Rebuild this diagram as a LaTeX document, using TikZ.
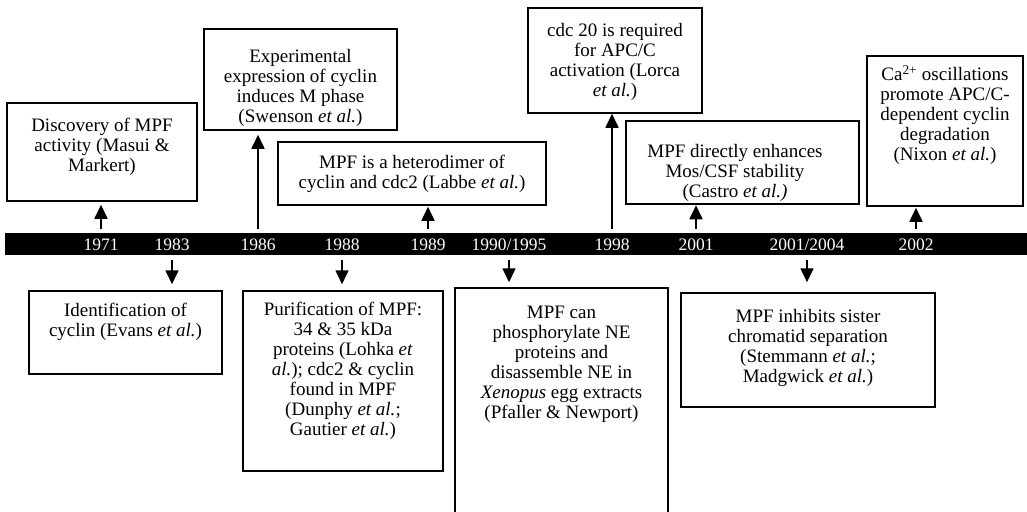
\documentclass[tikz,border=0pt]{standalone}
\usepackage{fontspec}
\setmainfont{Liberation Serif}
\usetikzlibrary{arrows.meta}

\tikzset{
  evframe/.style={draw, line width=1.5pt, inner sep=0pt},
  evtext/.style={align=center, inner sep=0.75pt, font=\fontsize{19}{20}\selectfont},
  yrtext/.style={text=white, inner sep=0.75pt, font=\fontsize{17.5}{20}\selectfont},
  evup/.style={line width=1.6pt, -{Triangle[width=13pt,length=14pt]}, shorten <=4pt},
  evdown/.style={line width=1.6pt, -{Triangle[width=13pt,length=14pt]}, shorten <=5pt},
}

\begin{document}
\begin{tikzpicture}[x=1pt,y=1pt,yscale=-1,xscale=1]
\useasboundingbox (0,0) rectangle (1027,511);
\clip (0,0) rectangle (1027,511);
%Bar
\node [fill=black, inner sep=0pt, minimum width=1022pt, minimum height=22pt] (bar) at (516,244) {};
\node [yrtext] (y1971) at (101,245) {1971};
\node [yrtext] (y1983) at (172,245) {1983};
\node [yrtext] (y1986) at (258,245) {1986};
\node [yrtext] (y1988) at (342,245) {1988};
\node [yrtext] (y1989) at (428,245) {1989};
\node [yrtext] (y1990) at (509,245) {1990/1995};
\node [yrtext] (y1998) at (612,245) {1998};
\node [yrtext] (y2001) at (696,245) {2001};
\node [yrtext] (y2004) at (807,245) {2001/2004};
\node [yrtext] (y2002) at (916,245) {2002};
%Boxes above
\node [evframe, minimum width=190pt, minimum height=98pt] (bA) at (102,152) {};
\node [evtext] (tA) at (102,147) {Discovery of MPF\\activity (Masui \&\\Markert)};
\node [evframe, minimum width=193pt, minimum height=101pt] (bB) at (300.5,79.5) {};
\node [evtext] (tB) at (300.5,88) {Experimental\\expression of cyclin\\induces M phase\\(Swenson \textit{et al.})};
\node [evframe, minimum width=268pt, minimum height=63pt] (bC) at (412,173.5) {};
\node [evtext] (tC) at (412,174) {MPF is a heterodimer of\\cyclin and cdc2 (Labbe \textit{et al.})};
\node [evframe, minimum width=174pt, minimum height=105pt] (bD) at (615,60.5) {};
\node [evtext] (tD) at (615,62) {cdc 20 is required\\for APC/C\\activation (Lorca\\\textit{et al.})};
\node [evframe, minimum width=233pt, minimum height=83pt] (bE) at (742.5,162.5) {};
\node [evtext] (tE) at (735,173) {MPF directly enhances\\Mos/CSF stability\\(Castro \textit{et al.)}};
\node [evframe, minimum width=156pt, minimum height=150pt] (bF) at (945,131) {};
\node [evtext] (tF) at (945,115) {Ca\textsuperscript{2+} oscillations\\promote APC/C-\\dependent cyclin\\degradation\\(Nixon \textit{et al.})};
%Boxes below
\node [evframe, minimum width=193pt, minimum height=83pt] (bG) at (125.5,332.5) {};
\node [evtext] (tG) at (125.5,322) {Identification of\\cyclin (Evans \textit{et al.})};
\node [evframe, minimum width=200pt, minimum height=180pt] (bH) at (343,381) {};
\node [evtext] (tH) at (343,371) {Purification of MPF:\\34 \& 35 kDa\\proteins (Lohka \textit{et}\\\textit{al.}); cdc2 \& cyclin\\found in MPF\\(Dunphy \textit{et al.};\\Gautier \textit{et al.})};
\node [evframe, minimum width=213pt, minimum height=242pt] (bI) at (561.5,409) {};
\node [evtext] (tI) at (561.5,364) {MPF can\\phosphorylate NE\\proteins and\\disassemble NE in\\\textit{Xenopus} egg extracts\\(Pfaller \& Newport)};
\node [evframe, minimum width=254pt, minimum height=114pt] (bJ) at (808,350) {};
\node [evtext] (tJ) at (808,347.5) {MPF inhibits sister\\chromatid separation\\(Stemmann \textit{et al.};\\Madgwick \textit{et al.})};
%Arrows
\draw [evup, shorten >=3pt] (y1971 |- bar.north) -- (y1971 |- bA.south);
\draw [evup, shorten >=4pt] (y1986 |- bar.north) -- (y1986 |- bB.south);
\draw [evup, shorten >=1pt] (y1989 |- bar.north) -- (y1989 |- bC.south);
\draw [evup] (y1998 |- bar.north) -- (y1998 |- bD.south);
\draw [evup, shorten >=0.5pt] (y2001 |- bar.north) -- (y2001 |- bE.south);
\draw [evup, shorten >=1pt] (y2002 |- bar.north) -- (y2002 |- bF.south);
\draw [evdown, shorten >=6pt] (y1983 |- bar.south) -- (y1983 |- bG.north);
\draw [evdown, shorten >=6pt] (y1988 |- bar.south) -- (y1988 |- bH.north);
\draw [evdown, shorten >=5pt] (y1990 |- bar.south) -- (y1990 |- bI.north);
\draw [evdown, shorten >=10pt] (y2004 |- bar.south) -- (y2004 |- bJ.north);
\end{tikzpicture}
\end{document}
